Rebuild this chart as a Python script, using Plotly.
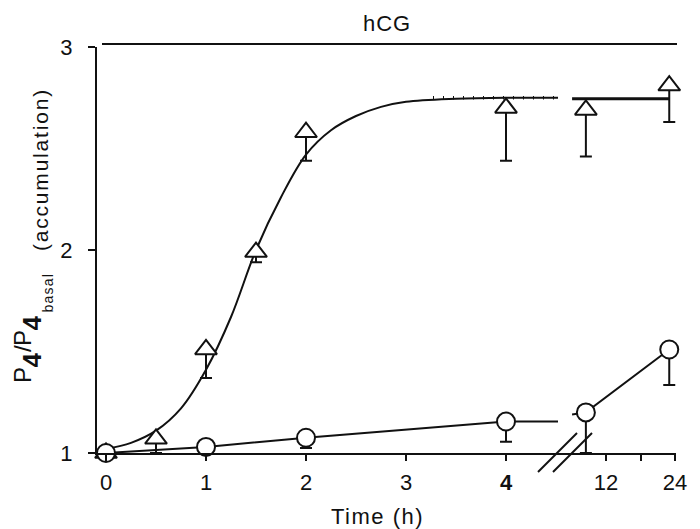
import plotly.graph_objects as go

# ---------------- data ----------------
hcg_hours = [0, 0.5, 1, 1.5, 2, 4, 8.5, 23]
hcg_mean = [1.0, 1.07, 1.51, 1.99, 2.58, 2.70, 2.69, 2.81]
hcg_err = [0.0, 0.07, 0.14, 0.05, 0.14, 0.26, 0.23, 0.18]

ctrl_hours = [0, 1, 2, 4, 8.5, 23]
ctrl_mean = [1.0, 1.03, 1.075, 1.155, 1.20, 1.51]
ctrl_err = [0.0, 0.0, 0.05, 0.10, 0.20, 0.175]

# fitted curve for hCG
fit_hours = [0, 0.25, 0.5, 0.75, 1.0, 1.25, 1.5, 1.75, 2.0, 2.25, 2.5, 2.75, 3.0, 3.5, 4.0, 4.52]
fit_vals = [1.02, 1.05, 1.11, 1.22, 1.41, 1.67, 2.0, 2.26, 2.47, 2.59, 2.66, 2.705, 2.73, 2.745, 2.75, 2.75]
fit_dotted_hours = [3.27, 4.52]
fit_dotted_vals = [2.75, 2.75]
fit_after_hours = [6.1, 23]
fit_after_vals = [2.745, 2.745]

# control fit lines (before / after the axis break)
ctrl_line_hours = [0, 1, 2, 4, 4.52]
ctrl_line_vals = [1.0, 1.03, 1.075, 1.155, 1.155]
ctrl_after_hours = [6.1, 8.5, 23]
ctrl_after_vals = [1.19, 1.20, 1.51]

tick_hours = [0, 1, 2, 3, 4, 12, 18, 24]
tick_text = ["0", "1", "2", "3", "<b>4</b>", "12", "", "24"]

# ---------------- broken time axis ----------------
BREAK_AT = 4.6
AFTER_ORIGIN = 12
AFTER_POS = 5.0
AFTER_SCALE = 0.0575


def xpos(h):
    return h if h <= BREAK_AT else AFTER_POS + (h - AFTER_ORIGIN) * AFTER_SCALE


def xs(hours):
    return [xpos(h) for h in hours]


XR = [-0.09, 5.70]
YR = [1, 3]
OFF = 8  # page body margin
W, H = 700 - OFF, 529 - OFF
L, T = 97 - OFF, 47 - OFF
R = W - (676 - OFF)
B = H - (453 - OFF)
PW, PH = W - L - R, H - T - B


def px_x(px):
    # reference-screen pixel -> paper coordinate
    return (px - OFF - L) / PW


def px_y(py):
    return (H - B - (py - OFF)) / PH


INK = "#111111"
FONT = "Liberation Sans, Arial, sans-serif"

fig = go.Figure()

line_style = dict(color=INK, width=2)

fig.add_trace(go.Scatter(x=xs(fit_hours), y=fit_vals, mode="lines",
                         line=dict(color=INK, width=2, shape="spline", smoothing=1.0),
                         hoverinfo="skip", cliponaxis=False, showlegend=False))
fig.add_trace(go.Scatter(x=xs(fit_dotted_hours), y=fit_dotted_vals, mode="lines",
                         line=dict(color=INK, width=3.5, dash="1px,9px"),
                         hoverinfo="skip", cliponaxis=False, showlegend=False))
fig.add_trace(go.Scatter(x=xs(fit_after_hours), y=fit_after_vals, mode="lines",
                         line=dict(color=INK, width=3),
                         hoverinfo="skip", cliponaxis=False, showlegend=False))
fig.add_trace(go.Scatter(x=xs(ctrl_line_hours), y=ctrl_line_vals, mode="lines",
                         line=line_style, hoverinfo="skip", cliponaxis=False, showlegend=False))
fig.add_trace(go.Scatter(x=xs(ctrl_after_hours), y=ctrl_after_vals, mode="lines",
                         line=line_style, hoverinfo="skip", cliponaxis=False, showlegend=False))

fig.add_trace(go.Scatter(
    x=xs(hcg_hours), y=hcg_mean, mode="markers", name="hCG",
    marker=dict(symbol="triangle-up", size=19, color="white", line=dict(color=INK, width=2)),
    error_y=dict(type="data", symmetric=False, array=[0] * len(hcg_err), arrayminus=hcg_err,
                 color=INK, thickness=2, width=6),
    cliponaxis=False, showlegend=False))

fig.add_trace(go.Scatter(
    x=xs(ctrl_hours), y=ctrl_mean, mode="markers", name="control",
    marker=dict(symbol="circle", size=18, color="white", line=dict(color=INK, width=2)),
    error_y=dict(type="data", symmetric=False, array=[0] * len(ctrl_err), arrayminus=ctrl_err,
                 color=INK, thickness=2, width=6),
    cliponaxis=False, showlegend=False))

shapes = [
    # hCG bar on top
    dict(type="line", xref="paper", yref="paper", x0=px_x(102), x1=px_x(677),
         y0=px_y(44), y1=px_y(44), line=dict(color=INK, width=2)),
    # axis break marks
    dict(type="line", xref="paper", yref="paper", x0=px_x(538), x1=px_x(577),
         y0=px_y(472), y1=px_y(433), line=dict(color=INK, width=2)),
    dict(type="line", xref="paper", yref="paper", x0=px_x(553), x1=px_x(592),
         y0=px_y(472), y1=px_y(433), line=dict(color=INK, width=2)),
]


def ann(text, cx, cy, size, angle=0, bold=False, spacing=None):
    t = text
    if spacing:
        t = f'<span style="letter-spacing:{spacing}px">{t}</span>'
    if bold:
        t = f"<b>{t}</b>"
    return dict(text=t, xref="paper", yref="paper", x=px_x(cx), y=px_y(cy),
                xanchor="center", yanchor="middle", showarrow=False, textangle=angle,
                font=dict(family=FONT, size=size, color=INK))


annotations = [
    ann("hCG", 387, 23, 22, spacing=1),
    ann("Time (h)", 377, 516, 22, spacing=1.5),
    ann("P", 22, 375, 24, -90),
    ann("4", 31.5, 360, 26, -90, bold=True),
    ann("/", 22, 349, 24, -90),
    ann("P", 22, 338, 24, -90),
    ann("4", 31.5, 323, 26, -90, bold=True),
    ann("basal", 47.5, 293, 14, -90, spacing=1.2),
    ann("(accumulation)", 40, 170, 21, -90, spacing=1.8),
]

fig.update_layout(
    width=W, height=H, margin=dict(l=L, r=R, t=T, b=B),
    paper_bgcolor="white", plot_bgcolor="white",
    font=dict(family=FONT, color=INK),
    shapes=shapes, annotations=annotations,
    xaxis=dict(range=XR, showgrid=False, zeroline=False, showline=True, linecolor=INK,
               linewidth=2, ticks="outside", ticklen=6, tickwidth=2, tickcolor=INK,
               tickvals=xs(tick_hours), ticktext=tick_text,
               tickfont=dict(family=FONT, size=22, color=INK), ticklabelstandoff=3),
    yaxis=dict(range=YR, showgrid=False, zeroline=False, showline=True, linecolor=INK,
               linewidth=2, ticks="outside", ticklen=7, tickwidth=2, tickcolor=INK,
               tickvals=[1, 2, 3], ticktext=["1", "2", "3"],
               tickfont=dict(family=FONT, size=22, color=INK), ticklabelstandoff=11),
)

fig.write_html("out.html")
